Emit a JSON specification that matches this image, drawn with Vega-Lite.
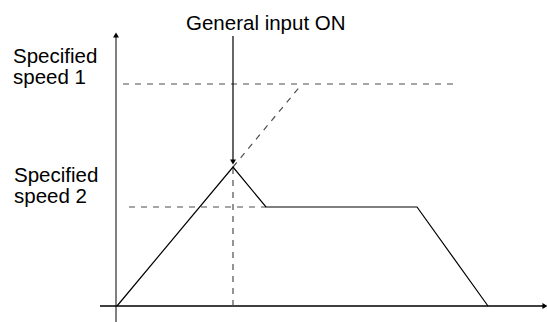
{
  "$schema": "https://vega.github.io/schema/vega-lite/v6.json",
  "width": 547,
  "height": 322,
  "padding": 0,
  "autosize": {"type": "none"},
  "config": {"view": {"stroke": null}, "font": "Liberation Sans"},
  "datasets": {
    "profile": [
      {"t": 1, "s": 0, "o": 1},
      {"t": 117, "s": 139, "o": 2},
      {"t": 150, "s": 99, "o": 3},
      {"t": 301, "s": 99, "o": 4},
      {"t": 372, "s": 0, "o": 5}
    ],
    "guides": [
      {"id": "speed1", "t": 7, "s": 222, "o": 1},
      {"id": "speed1", "t": 342, "s": 222, "o": 2},
      {"id": "speed2", "t": 13, "s": 99, "o": 1},
      {"id": "speed2", "t": 150, "s": 99, "o": 2},
      {"id": "extend", "t": 117, "s": 139, "o": 1},
      {"id": "extend", "t": 186, "s": 222, "o": 2},
      {"id": "switch", "t": 117, "s": 0, "o": 1},
      {"id": "switch", "t": 117, "s": 139, "o": 2}
    ],
    "yaxis": [
      {"t": 0, "s": -16, "o": 1},
      {"t": 0, "s": 270, "o": 2}
    ],
    "xaxis": [
      {"t": -16, "s": 0, "o": 1},
      {"t": 428, "s": 0, "o": 2}
    ],
    "arrow": [
      {"t": 117, "s": 270, "o": 1},
      {"t": 117, "s": 146, "o": 2}
    ],
    "heads": [
      {"t": 0, "s": 271, "dir": "up"},
      {"t": 117, "s": 144, "dir": "down"},
      {"t": 429, "s": 0, "dir": "right"}
    ],
    "labels": [
      {"t": -103, "s": 243, "label": "Specified\nspeed 1"},
      {"t": -102, "s": 124.5, "label": "Specified\nspeed 2"},
      {"t": 70, "s": 276, "label": "General input ON"}
    ]
  },
  "encoding": {
    "x": {"field": "t", "type": "quantitative", "axis": null, "scale": {"domain": [-116, 431], "nice": false, "zero": false}},
    "y": {"field": "s", "type": "quantitative", "axis": null, "scale": {"domain": [-16, 306], "nice": false, "zero": false}}
  },
  "layer": [
    {
      "data": {"name": "yaxis"},
      "mark": {"type": "line", "color": "#808080", "strokeWidth": 2},
      "encoding": {"order": {"field": "o"}}
    },
    {
      "data": {"name": "xaxis"},
      "mark": {"type": "line", "color": "#000000", "strokeWidth": 1.5},
      "encoding": {"order": {"field": "o"}}
    },
    {
      "data": {"name": "guides"},
      "mark": {"type": "line", "color": "#4d4d4d", "strokeWidth": 1.2, "strokeDash": [6, 6]},
      "encoding": {"detail": {"field": "id"}, "order": {"field": "o"}}
    },
    {
      "data": {"name": "profile"},
      "mark": {"type": "line", "color": "#000000", "strokeWidth": 1.2},
      "encoding": {"order": {"field": "o"}}
    },
    {
      "data": {"name": "arrow"},
      "mark": {"type": "line", "color": "#000000", "strokeWidth": 1.2},
      "encoding": {"order": {"field": "o"}}
    },
    {
      "data": {"name": "heads"},
      "mark": {"type": "point", "filled": true, "color": "#000000", "size": 35, "opacity": 1},
      "encoding": {
        "shape": {"field": "dir", "type": "nominal", "legend": null, "scale": {"domain": ["up", "down", "right"], "range": ["triangle-up", "triangle-down", "triangle-right"]}}
      }
    },
    {
      "data": {"name": "labels"},
      "mark": {"type": "text", "align": "left", "baseline": "alphabetic", "fontSize": 20.5, "lineHeight": 21, "lineBreak": "\n", "color": "#000000"},
      "encoding": {"text": {"field": "label"}}
    }
  ]
}
